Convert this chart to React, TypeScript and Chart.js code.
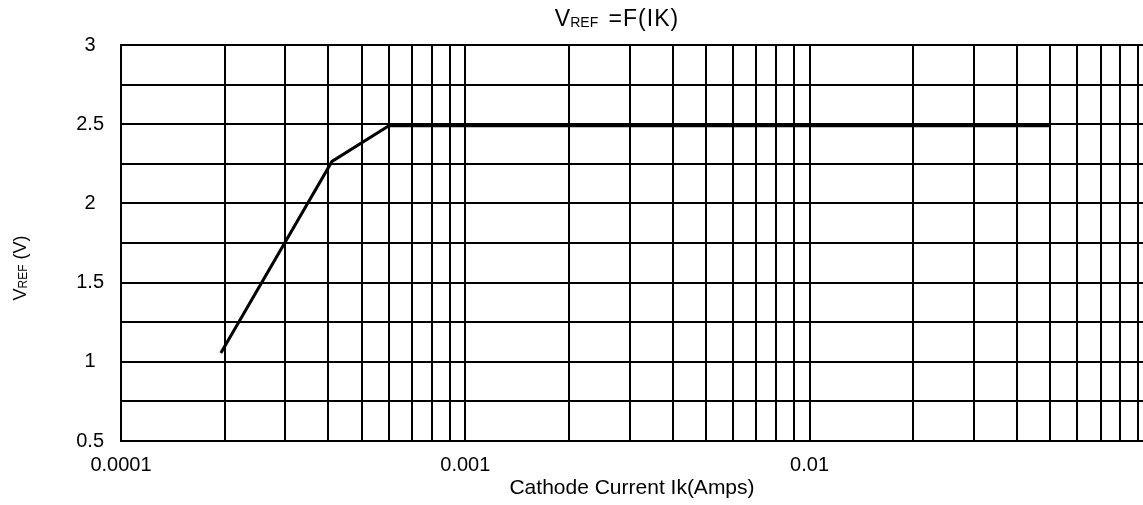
import { useEffect, useRef } from "react";
import { Chart, registerables } from "chart.js";

Chart.register(...registerables);

// ---- data ----
const cathodeCurrent = [0.000195, 0.00041, 0.0006, 0.05];
const vrefVolts = [1.055, 2.265, 2.49, 2.49];

// ---- axes ----
const xGridValues = [
  0.0001, 0.0002, 0.0003, 0.0004, 0.0005, 0.0006, 0.0007, 0.0008, 0.0009,
  0.001, 0.002, 0.003, 0.004, 0.005, 0.006, 0.007, 0.008, 0.009,
  0.01, 0.02, 0.03, 0.04, 0.05, 0.06, 0.07, 0.08, 0.09,
];
const xLabelValues = [0.0001, 0.001, 0.01];
const xLabelTexts = ["0.0001", "0.001", "0.01"];
const yGridValues = [0.5, 0.75, 1, 1.25, 1.5, 1.75, 2, 2.25, 2.5, 2.75, 3];
const yLabelValues = [0.5, 1, 1.5, 2, 2.5, 3];
const yLabelTexts = ["0.5", "1", "1.5", "2", "2.5", "3"];

const chartTitleMain = "V";
const chartTitleSub = "REF";
const chartTitleRest = " =F(IK)";
const yTitleMain = "V";
const yTitleSub = "REF";
const yTitleRest = " (V)";
const xTitle = "Cathode Current Ik(Amps)";

const FAMILY = "'Liberation Sans', Arial, Helvetica, sans-serif";

function drawSubText(
  ctx: CanvasRenderingContext2D,
  main: string,
  sub: string,
  rest: string,
  cx: number,
  baseline: number,
  size: number,
  subSize: number,
  restSpacing: number,
  gap: number
) {
  const mainFont = `${size}px ${FAMILY}`;
  const subFont = `${subSize}px ${FAMILY}`;
  const c: any = ctx;
  c.letterSpacing = "0px";
  ctx.font = mainFont;
  const w1 = ctx.measureText(main).width;
  ctx.font = subFont;
  const w2 = ctx.measureText(sub).width;
  ctx.font = mainFont;
  c.letterSpacing = `${restSpacing}px`;
  const w3 = ctx.measureText(rest).width;
  c.letterSpacing = "0px";
  let x = cx - (w1 + w2 + gap + w3) / 2;
  ctx.textAlign = "left";
  ctx.textBaseline = "alphabetic";
  ctx.font = mainFont;
  ctx.fillText(main, x, baseline);
  x += w1;
  ctx.font = subFont;
  ctx.fillText(sub, x, baseline + 1);
  x += w2 + gap;
  ctx.font = mainFont;
  c.letterSpacing = `${restSpacing}px`;
  ctx.fillText(rest, x, baseline);
  c.letterSpacing = "0px";
}

const titlesPlugin = {
  id: "subscriptTitles",
  afterDraw(chart: any) {
    const { ctx } = chart;
    ctx.save();
    ctx.fillStyle = "#000";
    drawSubText(
      ctx,
      chartTitleMain,
      chartTitleSub,
      chartTitleRest,
      617,
      26,
      23,
      14,
      1,
      3
    );
    ctx.translate(26, 268);
    ctx.rotate(-Math.PI / 2);
    drawSubText(ctx, yTitleMain, yTitleSub, yTitleRest, 0, 0, 18, 12, 0, 0);
    ctx.restore();
  },
};

export default function App() {
  const canvasRef = useRef<HTMLCanvasElement | null>(null);

  useEffect(() => {
    if (!canvasRef.current) return;
    const chart = new Chart(canvasRef.current, {
      type: "line",
      data: {
        datasets: [
          {
            data: cathodeCurrent.map((x, i) => ({ x, y: vrefVolts[i] })),
            borderColor: "#000",
            borderWidth: 3,
            pointRadius: 0,
            tension: 0,
            fill: false,
          },
        ],
      },
      options: {
        responsive: false,
        animation: false,
        events: [],
        layout: { padding: { top: 45, left: 0, right: 0, bottom: 0 } },
        plugins: {
          legend: { display: false },
          tooltip: { enabled: false },
          title: { display: false },
        },
        scales: {
          x: {
            type: "logarithmic",
            min: 0.0001,
            max: 0.093,
            afterBuildTicks: (scale: any) => {
              scale.ticks = xGridValues.map((v) => ({ value: v }));
            },
            afterFit: (scale: any) => {
              scale.height = 64;
              scale.paddingLeft = 0;
              scale.paddingRight = 0;
            },
            ticks: {
              autoSkip: false,
              maxRotation: 0,
              minRotation: 0,
              padding: 12,
              color: "#000",
              font: { family: FAMILY, size: 20 },
              callback: (value: any) => {
                const idx = xLabelValues.findIndex(
                  (v) => Math.abs(v - Number(value)) / v < 1e-6
                );
                return idx >= 0 ? xLabelTexts[idx] : "";
              },
            },
            grid: {
              color: "#000",
              lineWidth: 2,
              drawTicks: false,
            },
            border: { color: "#000", width: 2 },
            title: {
              display: true,
              text: xTitle,
              color: "#000",
              font: { family: FAMILY, size: 21 },
              padding: { top: 0, bottom: 4 },
            },
          },
          y: {
            type: "linear",
            min: 0.5,
            max: 3,
            afterBuildTicks: (scale: any) => {
              scale.ticks = yGridValues.map((v) => ({ value: v }));
            },
            afterFit: (scale: any) => {
              scale.width = 121;
            },
            ticks: {
              autoSkip: false,
              padding: 17,
              crossAlign: "center",
              color: "#000",
              font: { family: FAMILY, size: 20 },
              callback: (value: any) => {
                const idx = yLabelValues.findIndex(
                  (v) => Math.abs(v - Number(value)) < 1e-9
                );
                return idx >= 0 ? yLabelTexts[idx] : "";
              },
            },
            grid: {
              color: "#000",
              lineWidth: 2,
              drawTicks: false,
            },
            border: { color: "#000", width: 2 },
          },
        },
      },
      plugins: [titlesPlugin],
    });
    return () => chart.destroy();
  }, []);

  return (
    <div
      style={{
        position: "fixed",
        left: 0,
        top: 0,
        width: 1143,
        height: 505,
        overflow: "hidden",
        background: "#fff",
      }}
    >
      <canvas
        ref={canvasRef}
        width={1143}
        height={505}
        style={{ display: "block", width: 1143, height: 505 }}
      />
    </div>
  );
}
